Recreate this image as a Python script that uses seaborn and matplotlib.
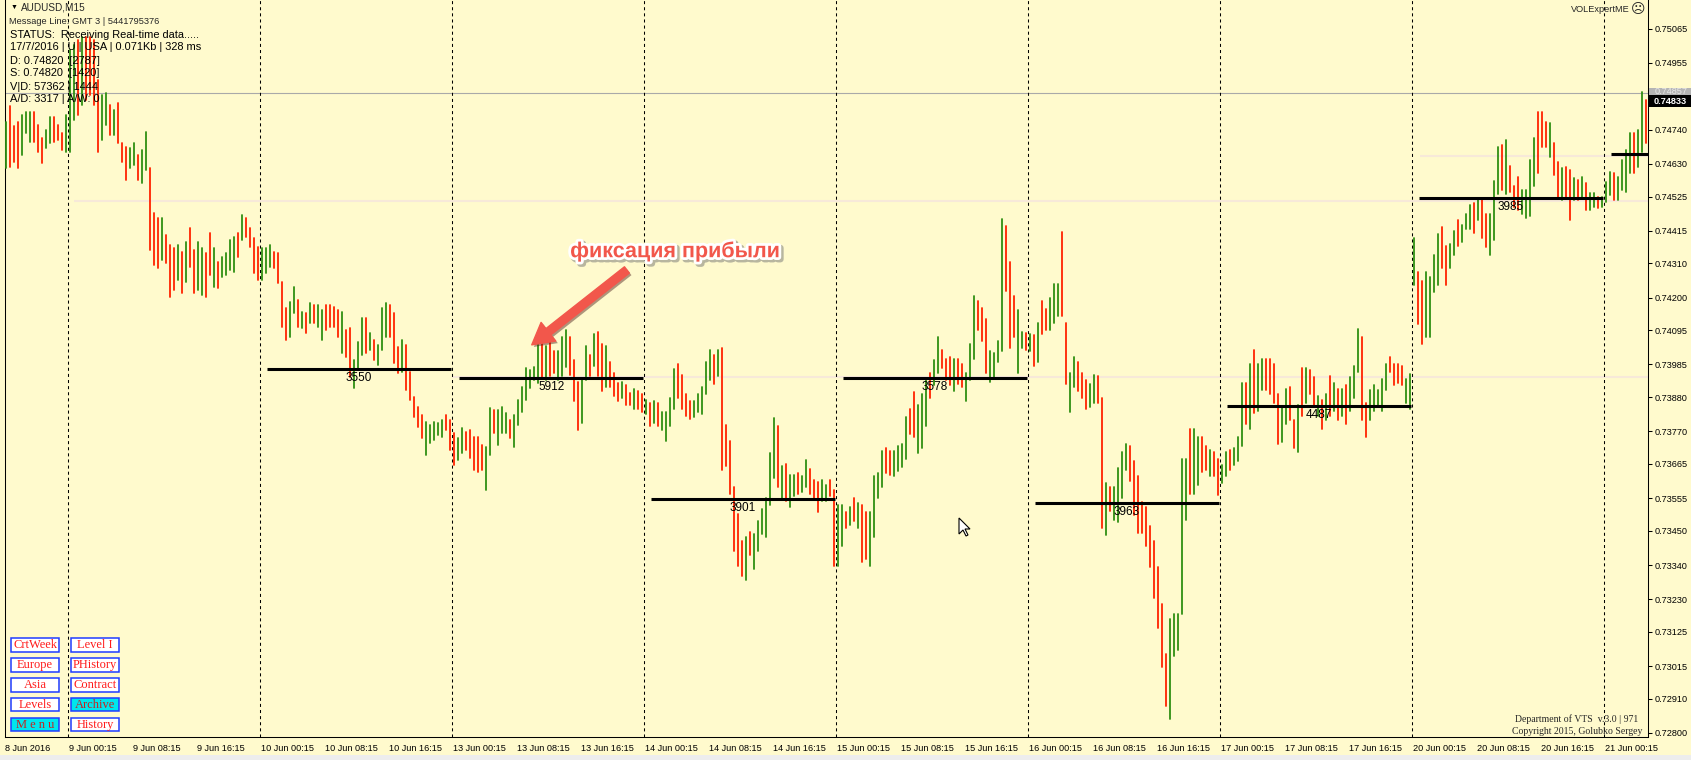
import matplotlib
matplotlib.use("Agg")
import matplotlib.pyplot as plt
import matplotlib.patheffects as pe
from matplotlib.patches import Rectangle, Polygon
import numpy as np
import pandas as pd
import seaborn as sns

# AUDUSD half-hour bars, 8 Jun 2016 (afternoon) .. 21 Jun 2016, prices in points (1e-5)
high_pts = [
    74765, 74816, 74752, 74765, 74787, 74797, 74797, 74797, 74755, 74713, 74739, 74781, 74781, 74755, 74729, 74787,
    74996, 75012, 75028, 75038, 75038, 75038, 75028, 74900, 74852, 74858, 74819, 74803, 74826, 74697, 74684, 74681,
    74697, 74659, 74675, 74733, 74617, 74472, 74456, 74456, 74401, 74369, 74360, 74369, 74347, 74379, 74424, 74353,
    74379, 74360, 74343, 74408, 74360, 74315, 74331, 74343, 74385, 74395, 74408, 74466, 74456, 74424, 74392, 74363,
    74360, 74360, 74369, 74347, 74343, 74250, 74167, 74186, 74234, 74192, 74154, 74151, 74183, 74176, 74176, 74160,
    74176, 74176, 74170, 74160, 74154, 74096, 74102, 73999, 74057, 74134, 74134, 74086, 74064, 74048, 74167, 74183,
    74176, 74151, 74041, 74064, 74048, 73961, 73880, 73848, 73823, 73800, 73790, 73800, 73797, 73806, 73823, 73806,
    73765, 73749, 73781, 73768, 73774, 73752, 73752, 73726, 73720, 73845, 73839, 73839, 73848, 73829, 73806, 73823,
    73871, 73913, 73974, 73967, 73977, 74054, 74064, 74044, 74083, 74028, 74028, 74073, 74096, 74073, 73999, 73929,
    73935, 74044, 74015, 74083, 74089, 74051, 74044, 73993, 73958, 73926, 73929, 73919, 73893, 73906, 73900, 73890,
    73871, 73861, 73868, 73861, 73832, 73832, 73877, 73970, 73987, 73951, 73890, 73868, 73868, 73890, 73913, 73993,
    74032, 74015, 74032, 74038, 73790, 73739, 73591, 73504, 73417, 73430, 73446, 73440, 73482, 73520, 73556, 73700,
    73813, 73787, 73659, 73665, 73630, 73630, 73636, 73626, 73678, 73649, 73614, 73607, 73614, 73598, 73614, 73581,
    73533, 73533, 73511, 73527, 73556, 73540, 73533, 73511, 73511, 73626, 73636, 73707, 73716, 73707, 73707, 73723,
    73730, 73816, 73842, 73897, 73855, 73890, 73935, 73958, 73999, 74073, 74032, 74003, 74009, 74003, 74003, 73987,
    73958, 74051, 74205, 74189, 74167, 74131, 74028, 74022, 74060, 74453, 74430, 74315, 74205, 74160, 74089, 74086,
    74083, 74080, 74118, 74189, 74163, 74199, 74244, 74244, 74411, 74118, 73958, 74009, 73993, 73958, 73935, 73922,
    73951, 73948, 73877, 73604, 73591, 73591, 73652, 73704, 73730, 73723, 73675, 73626, 73543, 73527, 73466, 73417,
    73334, 73215, 73054, 73167, 73182, 73182, 73681, 73681, 73778, 73778, 73752, 73752, 73723, 73710, 73704, 73681,
    73662, 73704, 73710, 73716, 73752, 73926, 73926, 73987, 74032, 73987, 74003, 74003, 74003, 73987, 73890, 73848,
    73906, 73913, 73806, 73855, 73974, 73974, 73967, 73945, 73884, 73871, 73890, 73948, 73926, 73906, 73906, 73919,
    73945, 73980, 74099, 74073, 73861, 73903, 73919, 73903, 73938, 73987, 74009, 73987, 73987, 73980, 73938, 73954,
    74392, 74282, 74253, 74282, 74266, 74337, 74405, 74427, 74366, 74372, 74414, 74450, 74434, 74469, 74498, 74504,
    74517, 74517, 74469, 74469, 74575, 74684, 74691, 74707, 74623, 74559, 74588, 74546, 74546, 74642, 74713, 74797,
    74797, 74765, 74762, 74697, 74636, 74617, 74620, 74610, 74585, 74578, 74588, 74569, 74536, 74536, 74524, 74524,
    74572, 74604, 74601, 74588, 74642, 74675, 74729, 74729, 74739, 74861, 74835,
]
low_pts = [
    74617, 74620, 74636, 74617, 74659, 74729, 74700, 74700, 74668, 74633, 74681, 74697, 74700, 74707, 74675, 74668,
    74668, 74771, 74787, 74819, 74835, 74852, 74819, 74668, 74707, 74755, 74723, 74723, 74697, 74636, 74578, 74617,
    74626, 74578, 74569, 74610, 74353, 74305, 74295, 74321, 74311, 74202, 74224, 74257, 74215, 74250, 74298, 74215,
    74224, 74208, 74202, 74273, 74234, 74231, 74266, 74273, 74289, 74282, 74331, 74385, 74395, 74363, 74279, 74257,
    74257, 74279, 74298, 74295, 74247, 74106, 74064, 74073, 74151, 74106, 74102, 74086, 74118, 74118, 74106, 74064,
    74096, 74106, 74106, 74073, 74022, 74009, 73945, 73909, 73967, 74015, 74022, 74032, 73999, 73983, 74032, 74073,
    74073, 73990, 73958, 73961, 73903, 73871, 73816, 73784, 73749, 73694, 73733, 73742, 73758, 73752, 73774, 73710,
    73662, 73678, 73700, 73710, 73684, 73646, 73639, 73646, 73581, 73694, 73765, 73726, 73765, 73765, 73749, 73720,
    73790, 73832, 73871, 73909, 73935, 73926, 73942, 73935, 73948, 73958, 73935, 73948, 73977, 73951, 73868, 73774,
    73797, 73935, 73948, 73980, 73948, 73900, 73913, 73913, 73884, 73868, 73877, 73855, 73855, 73842, 73842, 73832,
    73826, 73787, 73797, 73787, 73774, 73739, 73787, 73842, 73877, 73842, 73819, 73810, 73816, 73832, 73826, 73890,
    73935, 73922, 73948, 73646, 73659, 73569, 73385, 73337, 73305, 73292, 73372, 73327, 73385, 73440, 73430, 73533,
    73620, 73591, 73549, 73546, 73527, 73562, 73569, 73575, 73591, 73569, 73549, 73511, 73546, 73546, 73562, 73337,
    73337, 73401, 73459, 73469, 73482, 73459, 73350, 73360, 73337, 73430, 73556, 73591, 73636, 73630, 73626, 73642,
    73655, 73681, 73762, 73752, 73700, 73716, 73787, 73877, 73919, 73958, 73974, 73935, 73919, 73900, 73922, 73913,
    73868, 73935, 74003, 74096, 74060, 73958, 73929, 73942, 73993, 74028, 74221, 74038, 74073, 73958, 74038, 74032,
    74028, 73980, 73993, 74083, 74096, 74096, 74118, 74141, 74141, 73922, 73832, 73913, 73900, 73877, 73842, 73848,
    73861, 73861, 73459, 73437, 73514, 73485, 73479, 73556, 73646, 73610, 73501, 73443, 73443, 73401, 73334, 73234,
    73138, 73012, 72887, 72845, 73049, 73067, 73182, 73485, 73569, 73569, 73598, 73639, 73646, 73626, 73626, 73565,
    73604, 73626, 73646, 73662, 73675, 73723, 73794, 73778, 73829, 73835, 73903, 73903, 73890, 73861, 73730, 73736,
    73794, 73806, 73716, 73704, 73819, 73861, 73890, 73848, 73819, 73778, 73806, 73819, 73835, 73806, 73819, 73794,
    73835, 73877, 73961, 73806, 73752, 73806, 73835, 73848, 73835, 73903, 73961, 73919, 73926, 73919, 73861, 73842,
    74241, 74115, 74051, 74073, 74073, 74218, 74241, 74295, 74241, 74295, 74337, 74366, 74379, 74421, 74421, 74408,
    74450, 74392, 74363, 74337, 74385, 74533, 74546, 74533, 74540, 74491, 74482, 74469, 74456, 74462, 74559, 74601,
    74684, 74684, 74652, 74594, 74524, 74514, 74524, 74450, 74514, 74514, 74524, 74482, 74482, 74491, 74488, 74491,
    74507, 74530, 74514, 74514, 74546, 74540, 74601, 74601, 74620, 74668, 74697,
]
# g = up bar, r = down bar
bar_dir = "".join([
    "grrrgggrrrggrrrg",
    "ggrgrrrr", "ggrgrrrg", "grggrrrg", "rrrgrgrr", "ggrrgrgg", "ggrgrrrr",
    "gggrrrrg", "grgrgrgg", "rrrrgrrg", "ggrgrggg", "rrrgrrrr", "rgggggrr",
    "rggrrrrr", "ggrgggrg", "ggggggrg", "rrgggrrr", "ggrgrrgr", "rrgrrgrr",
    "grgrgggg", "rrrrgggg", "grgrrrrr", "rgrggggg", "grgrggrg", "grrrggrr",
    "ggrgrgrr", "ggggrrgg", "ggrrgggr", "ggrrrgrr", "gggrrrgg", "ggrrrggr",
    "grgrrggg", "rrggrrrg", "grrgrggg", "grrrrrrr", "rrrggggg", "rggrrgrr",
    "ggrgggrg", "rggrrrrg", "grrgrgrr", "grgrgrgr", "gggrrggg", "ggrrrrgg",
    "grrggggr", "rggrgggr", "grrgggrg", "rrrggggr", "rrgrrgrr", "grgrggrg",
    "ggrggggrggr",
])

time_labels = ["8 Jun 2016"] + [f"{d} Jun {t}" for d in (9, 10, 13, 14, 15, 16, 17, 20)
                                 for t in ("00:15", "08:15", "16:15")] + ["21 Jun 00:15"]
price_labels = ["0.75065", "0.74955", "0.74740", "0.74630", "0.74525", "0.74415", "0.74310",
                "0.74200", "0.74095", "0.73985", "0.73880", "0.73770", "0.73665", "0.73555",
                "0.73450", "0.73340", "0.73230", "0.73125", "0.73015", "0.72910", "0.72800"]
day_starts = [16, 64, 112, 160, 208, 256, 304, 352, 400]
level_days = [64, 112, 160, 208, 256, 304, 352, 400]
level_prices = [0.73970, 0.73943, 0.73551, 0.73943, 0.73541, 0.73853, 0.74521, 0.74663]
level_labels = ["3550", "5912", "3901", "3578", "3963", "4487", "3985", ""]
pale_levels = [0.74512, 0.73945, 0.74655]
pale_from = [17, 111.5, 353.5]
ask_price, bid_price = 0.74857, 0.74833

BG = "#FFFACD"
GREEN = "#2f8f12"
RED = "#ff2200"
CORAL = "#F2574B"
W, H = 1691, 760

sns.set_style("white", {"axes.facecolor": BG, "figure.facecolor": BG})
plt.rcParams["font.family"] = ["Liberation Sans", "DejaVu Sans"]
plt.rcParams["lines.scale_dashes"] = False

fig = plt.figure(figsize=(W / 100, H / 100), dpi=100)
ax = fig.add_axes([5 / W, 23 / H, 1643 / W, 737 / H])
ax.set_facecolor(BG)

n = len(high_pts)
bars = pd.DataFrame({"bar": np.arange(n),
                     "high": np.array(high_pts) / 1e5,
                     "low": np.array(low_pts) / 1e5,
                     "dir": list(bar_dir)})
long = bars.melt(id_vars=["bar", "dir"], value_vars=["high", "low"], value_name="price")
sns.lineplot(data=long, x="bar", y="price", hue="dir", units="bar", estimator=None,
             palette={"g": GREEN, "r": RED}, linewidth=1.3, legend=False, sort=False,
             ax=ax, zorder=3)

# pale weekly levels and ask line
for lvl, x0 in zip(pale_levels, pale_from):
    ax.hlines(lvl, x0, 410.5, color="#F7E9D9", lw=1.5, zorder=1)
ax.axhline(ask_price, color="#A9A9A9", lw=0.8, zorder=1.5)

# day separators
for d in day_starts:
    ax.axvline(d - 0.5, color="black", lw=0.75, ls=(0, (2.2, 2.2)), zorder=2)

# daily volume levels
for d, lvl, lab in zip(level_days, level_prices, level_labels):
    x1 = min(d + 47.25, 410.5)
    ax.hlines(lvl, d + 1.25, x1, color="black", lw=2.2, zorder=4)
    if lab:
        ax.annotate(lab, (d + 24.25, lvl), xytext=(0, -9), textcoords="offset pixels",
                    ha="center", va="center", fontsize=8.5, color="black", zorder=5)

ax.set_xlim(-0.25, 410.5)
ax.set_ylim(0.72787, 0.75157)
ax.set_xlabel("")
ax.set_ylabel("")

ax.set_xticks(np.arange(0, 401, 16) - 0.3)
ax.set_xticklabels(time_labels, fontsize=6.6, ha="left")
ax.set_yticks([float(p) for p in price_labels])
ax.set_yticklabels(price_labels, fontsize=6.6)
ax.yaxis.tick_right()
ax.tick_params(axis="x", direction="out", length=3, width=0.75, pad=2, colors="black")
ax.tick_params(axis="y", direction="out", length=3, width=0.75, pad=2, colors="black")
for s in ["right", "bottom", "left"]:
    ax.spines[s].set_color("black")
    ax.spines[s].set_linewidth(0.75)
ax.spines["top"].set_visible(False)

# ask / bid price tags on the price scale
fig.add_artist(Rectangle((1649 / W, 1 - 97 / H), 42 / W, 9 / H, transform=fig.transFigure,
                         facecolor="#B4B4B4", edgecolor="none"))
fig.text(1655 / W, 1 - 92 / H, "0.74857", fontsize=6.6, color="#E8E8E8", va="center")
fig.add_artist(Rectangle((1649 / W, 1 - 107 / H), 42 / W, 12 / H, transform=fig.transFigure,
                         facecolor="black", edgecolor="none"))
fig.text(1654 / W, 1 - 101 / H, "0.74833", fontsize=6.6, color="white", va="center",
         fontweight="bold")

# info panel, top left
fig.text(11 / W, 1 - 7 / H, "▼", fontsize=5, va="center", color="black")
fig.text(21 / W, 1 - 7.5 / H, "AUDUSD,M15", fontsize=7.2, va="center")
fig.text(9 / W, 1 - 21.5 / H, "Message Line: GMT 3 | 5441795376", fontsize=6.7, va="center")
info = ["STATUS:  Receiving Real-time data.....",
        "17/7/2016 | U | USA | 0.071Kb | 328 ms",
        "D: 0.74820  [2787]", "S: 0.74820  [1420]",
        "V|D: 57362 | 1444", "A/D: 3317 | A/W: 0"]
for k, line in enumerate(info):
    fig.text(10 / W, 1 - (34.5 + 13 * k) / H, line, fontsize=7.9, va="center", color="black")

fig.text(1630 / W, 1 - 9 / H, "VOLExpertME", fontsize=6.6, va="center", ha="right")
fig.text(1631 / W, 1 - 9 / H, "☹", fontsize=10, va="center", ha="left",
         family=["DejaVu Sans"])

fig.text(1577 / W, 1 - 719 / H, "Department of VTS  v.3.0 | 971", fontsize=7,
         family=["Liberation Serif"], ha="center", va="center")
fig.text(1577 / W, 1 - 731 / H, "Copyright 2015, Golubko Sergey", fontsize=7,
         family=["Liberation Serif"], ha="center", va="center")

# button panel, bottom left
buttons = [["CrtWeek", "Europe", "Asia", "Levels", "M e n u"],
           ["Level I", "PHistory", "Contract", "Archive", "History"]]
active = {"M e n u", "Archive"}
for cx, col in zip([10.7, 70.7], buttons):
    for r, name in enumerate(col):
        yc = 645 + 19.9 * r
        fig.add_artist(Rectangle((cx / W, 1 - (yc + 6.7) / H), 48.6 / W, 13.4 / H,
                                 transform=fig.transFigure,
                                 facecolor="#00E6EC" if name in active else "white",
                                 edgecolor="#1F3CFF", lw=1.1))
        fig.text((cx + 24.3) / W, 1 - yc / H, name, fontsize=9, ha="center", va="center",
                 family=["Liberation Serif"],
                 color="#C8201E" if name in active else "#FF1A1A")

# arrow annotation
ax.annotate("", xy=(131.4, 0.74048), xytext=(155.2, 0.74289),
            arrowprops=dict(arrowstyle="simple,head_length=0.85,head_width=0.95,tail_width=0.32",
                            mutation_scale=18, color=CORAL, shrinkA=0, shrinkB=0,
                            path_effects=[pe.SimplePatchShadow(offset=(1.5, -1.5), alpha=0.45),
                                          pe.Normal()]),
            zorder=9)
ax.text(167.25, 0.74348, "фиксация прибыли", ha="center", va="center", fontsize=15.5,
        fontweight="bold", color=CORAL, zorder=10,
        path_effects=[pe.Stroke(linewidth=4.5, foreground="0.45", alpha=0.5, offset=(1.5, -1.5)),
                      pe.Stroke(linewidth=4, foreground="white"), pe.Normal()])

# mouse pointer left on the screenshot
tip_x, tip_y = 959, 518
cursor = [(0, 0), (0, 16), (4, 12), (7, 18), (9, 17), (6, 11), (11, 11)]
fig.add_artist(Polygon([((tip_x + dx) / W, 1 - (tip_y + dy) / H) for dx, dy in cursor],
                       closed=True, transform=fig.transFigure, facecolor="white",
                       edgecolor="black", lw=0.8))

# window frame strip at the bottom
fig.add_artist(Rectangle((0, 0), 1, 5 / H, transform=fig.transFigure,
                         facecolor="#EDEDED", edgecolor="none"))

fig.savefig("out.png", dpi=100, facecolor=BG)
